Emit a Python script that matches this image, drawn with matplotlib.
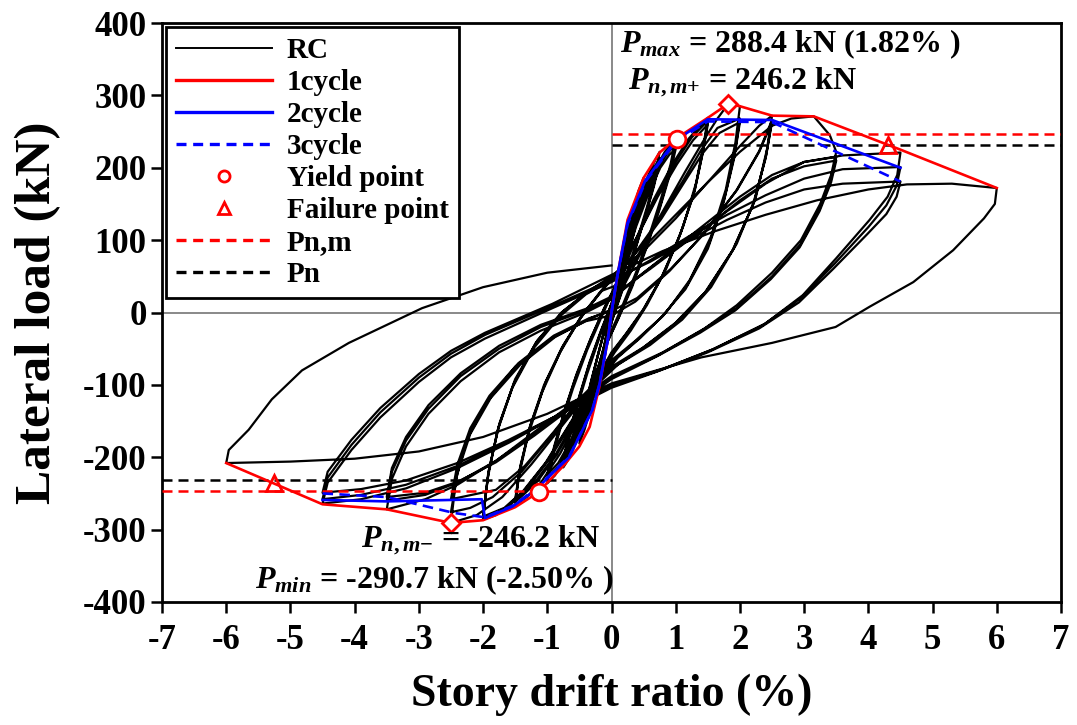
import matplotlib
matplotlib.use("Agg")
import matplotlib.pyplot as plt
from matplotlib.lines import Line2D

plt.rcParams['font.family'] = ['Liberation Serif', 'DejaVu Serif']
plt.rcParams['font.weight'] = 'bold'
plt.rcParams['mathtext.fontset'] = 'custom'
plt.rcParams['mathtext.it'] = 'Liberation Serif:italic:bold'
plt.rcParams['mathtext.rm'] = 'Liberation Serif:bold'
plt.rcParams['mathtext.bf'] = 'Liberation Serif:bold'

# ---------------- RC hysteresis record (drift %, load kN), one list per drift level ----------
rc_025 = [
    [(0.0, 0), (0.03, 10), (0.1, 50), (0.18, 88), (0.25, 118), (0.2, 90), (0.12, 50), (0.04, 10),
     (-0.04, -25), (-0.12, -62), (-0.19, -95), (-0.25, -116), (-0.2, -90), (-0.12, -52), (-0.04, -12)],
    [(0.04, 18), (0.12, 55), (0.19, 88), (0.25, 112), (0.2, 86), (0.12, 46), (0.04, 6),
     (-0.04, -28), (-0.12, -62), (-0.19, -92), (-0.25, -110), (-0.2, -85), (-0.12, -48), (-0.04, -10)],
]
rc_050 = [
    [(0.04, 15), (0.12, 55), (0.22, 100), (0.33, 140), (0.42, 168), (0.5, 186), (0.44, 155), (0.34, 115),
     (0.22, 68), (0.1, 25), (0.0, -10), (-0.1, -45), (-0.22, -95), (-0.33, -135), (-0.42, -162),
     (-0.5, -181), (-0.44, -150), (-0.34, -108), (-0.22, -62), (-0.1, -22), (0.0, 8)],
    [(0.1, 45), (0.22, 92), (0.33, 132), (0.42, 160), (0.5, 178), (0.44, 148), (0.33, 105), (0.2, 58),
     (0.08, 15), (-0.02, -18), (-0.12, -55), (-0.24, -100), (-0.35, -138), (-0.44, -160), (-0.5, -173),
     (-0.44, -143), (-0.33, -100), (-0.2, -55), (-0.08, -15), (0.02, 15)],
    [(0.12, 50), (0.24, 96), (0.35, 133), (0.44, 158), (0.5, 172), (0.43, 140), (0.31, 96), (0.18, 50),
     (0.06, 8), (-0.04, -24), (-0.15, -62), (-0.27, -106), (-0.38, -140), (-0.45, -157), (-0.5, -168),
     (-0.43, -136), (-0.31, -92), (-0.18, -48), (-0.06, -8), (0.04, 22)],
]
rc_075 = [
    [(0.12, 50), (0.25, 105), (0.4, 150), (0.55, 185), (0.66, 207), (0.75, 222), (0.68, 188), (0.55, 145),
     (0.38, 95), (0.2, 45), (0.05, 0), (-0.08, -35), (-0.22, -85), (-0.38, -135), (-0.53, -175),
     (-0.65, -200), (-0.75, -214), (-0.68, -180), (-0.55, -135), (-0.38, -85), (-0.2, -38), (-0.05, 0)],
    [(0.1, 35), (0.25, 95), (0.4, 140), (0.55, 178), (0.66, 200), (0.75, 213), (0.67, 180), (0.53, 135),
     (0.36, 85), (0.18, 35), (0.03, -5), (-0.1, -42), (-0.25, -92), (-0.4, -138), (-0.55, -175),
     (-0.66, -196), (-0.75, -207), (-0.67, -172), (-0.53, -125), (-0.36, -75), (-0.18, -30), (-0.03, 5)],
    [(0.12, 42), (0.27, 98), (0.42, 142), (0.57, 176), (0.67, 196), (0.75, 208), (0.66, 174), (0.51, 128),
     (0.34, 78), (0.16, 28), (0.01, -10), (-0.12, -48), (-0.27, -96), (-0.42, -140), (-0.57, -174),
     (-0.67, -193), (-0.75, -203), (-0.66, -166), (-0.51, -118), (-0.34, -68), (-0.16, -24), (0.0, 12)],
]
rc_100 = [
    [(0.1, 35), (0.28, 100), (0.48, 155), (0.66, 195), (0.83, 222), (1.0, 240), (0.92, 205), (0.78, 160),
     (0.6, 110), (0.38, 55), (0.15, 5), (0.0, -25), (-0.15, -60), (-0.35, -115), (-0.55, -165),
     (-0.75, -205), (-0.88, -225), (-1.0, -236), (-0.92, -200), (-0.78, -155), (-0.6, -105),
     (-0.38, -52), (-0.15, -5), (0.0, 25)],
    [(0.15, 55), (0.35, 115), (0.55, 165), (0.72, 200), (0.87, 220), (1.0, 232), (0.91, 195), (0.76, 148),
     (0.56, 95), (0.34, 42), (0.12, -5), (-0.05, -38), (-0.22, -80), (-0.42, -130), (-0.62, -178),
     (-0.8, -210), (-1.0, -229), (-0.9, -190), (-0.75, -142), (-0.56, -90), (-0.34, -40), (-0.12, 5),
     (0.02, 30)],
    [(0.18, 60), (0.38, 118), (0.58, 165), (0.76, 200), (0.9, 218), (1.0, 226), (0.9, 188), (0.74, 140),
     (0.54, 88), (0.32, 35), (0.1, -10), (-0.07, -42), (-0.25, -85), (-0.45, -135), (-0.65, -180),
     (-0.83, -208), (-1.0, -224), (-0.89, -184), (-0.73, -135), (-0.54, -84), (-0.32, -35), (-0.1, 8)],
]
rc_150 = [
    [(0.1, 40), (0.35, 95), (0.65, 155), (0.95, 205), (1.2, 240), (1.38, 258), (1.5, 269), (1.44, 235),
     (1.32, 180), (1.12, 120), (0.85, 60), (0.55, 10), (0.3, -25), (0.05, -55), (-0.2, -90),
     (-0.5, -145), (-0.8, -195), (-1.1, -235), (-1.32, -255), (-1.5, -266), (-1.44, -225),
     (-1.3, -170), (-1.08, -110), (-0.8, -55), (-0.5, -10), (-0.2, 25)],
    [(0.1, 55), (0.4, 105), (0.7, 160), (1.0, 208), (1.25, 242), (1.5, 265), (1.43, 225), (1.3, 170),
     (1.08, 110), (0.8, 52), (0.5, 5), (0.22, -30), (0.0, -55), (-0.25, -95), (-0.55, -148),
     (-0.85, -196), (-1.15, -233), (-1.35, -250), (-1.5, -262), (-1.43, -218), (-1.28, -160),
     (-1.05, -100), (-0.77, -48), (-0.47, -5), (-0.18, 28)],
    [(0.12, 60), (0.42, 108), (0.72, 160), (1.02, 205), (1.27, 238), (1.5, 260), (1.42, 220), (1.28, 163),
     (1.05, 103), (0.77, 47), (0.47, 0), (0.2, -33), (0.0, -57), (-0.27, -98), (-0.57, -150),
     (-0.87, -196), (-1.17, -232), (-1.37, -248), (-1.5, -258), (-1.42, -212), (-1.26, -155),
     (-1.02, -95), (-0.74, -44), (-0.44, -2), (-0.15, 30)],
]
rc_200 = [
    [(0.15, 40), (0.45, 85), (0.8, 140), (1.15, 195), (1.45, 240), (1.65, 268), (1.82, 288.4), (2.0, 285),
     (1.93, 235), (1.78, 170), (1.55, 105), (1.22, 45), (0.85, 0), (0.45, -35), (0.1, -62),
     (-0.25, -100), (-0.6, -150), (-0.95, -200), (-1.3, -242), (-1.6, -268), (-1.8, -280),
     (-2.0, -286), (-1.93, -230), (-1.78, -165), (-1.55, -105), (-1.2, -48), (-0.8, -5), (-0.4, 25),
     (0.0, 45)],
    [(0.35, 80), (0.75, 130), (1.1, 180), (1.4, 225), (1.65, 255), (2.0, 268), (1.92, 220), (1.76, 158),
     (1.52, 95), (1.18, 38), (0.8, -5), (0.4, -38), (0.05, -65), (-0.3, -105), (-0.65, -155),
     (-1.0, -205), (-1.35, -245), (-1.65, -270), (-2.0, -284), (-1.92, -222), (-1.76, -158),
     (-1.52, -98), (-1.18, -42), (-0.78, 0), (-0.38, 28), (0.0, 48)],
    [(0.38, 82), (0.78, 130), (1.12, 178), (1.42, 220), (1.68, 248), (2.0, 263), (1.91, 213), (1.74, 150),
     (1.5, 88), (1.15, 32), (0.76, -8), (0.36, -40), (0.0, -66), (-0.33, -108), (-0.68, -158),
     (-1.03, -208), (-1.38, -247), (-1.67, -270), (-2.0, -282), (-1.91, -218), (-1.74, -152),
     (-1.5, -92), (-1.15, -38), (-0.75, 2), (-0.35, 30), (0.0, 50)],
]
rc_250 = [
    [(0.5, 85), (1.0, 130), (1.5, 180), (2.0, 230), (2.3, 258), (2.5, 272), (2.42, 225), (2.25, 160),
     (1.95, 95), (1.55, 35), (1.1, -10), (0.6, -45), (0.1, -72), (-0.35, -110), (-0.8, -160),
     (-1.25, -210), (-1.7, -255), (-2.1, -280), (-2.5, -290.7), (-2.42, -230), (-2.25, -175),
     (-1.95, -125), (-1.5, -75), (-0.92, -35), (-0.4, -12), (0.0, -4)],
    [(0.37, 15), (0.9, 57), (1.42, 107), (1.94, 168), (2.3, 223), (2.5, 266), (2.41, 218), (2.22, 152),
     (1.9, 88), (1.48, 30), (1.0, -14), (0.5, -48), (0.0, -75), (-0.45, -115), (-0.9, -165),
     (-1.35, -212), (-1.8, -245), (-2.5, -258), (-2.4, -210), (-2.2, -160), (-1.9, -115),
     (-1.45, -70), (-0.9, -32), (-0.35, -8), (0.0, 2)],
    [(0.4, 20), (0.92, 60), (1.45, 110), (1.96, 170), (2.3, 222), (2.5, 263), (2.4, 213), (2.2, 148),
     (1.88, 85), (1.45, 27), (0.97, -17), (0.47, -50), (0.0, -78), (-0.48, -120), (-0.95, -172),
     (-1.4, -220), (-1.85, -255), (-2.2, -270), (-2.5, -276), (-2.4, -222), (-2.2, -168),
     (-1.88, -118), (-1.42, -72), (-0.88, -34), (-0.33, -8), (0.0, 4)],
]
rc_350 = [
    [(0.5, 90), (1.0, 135), (1.5, 180), (2.0, 222), (2.5, 258), (2.8, 268), (3.15, 271), (3.4, 245),
     (3.5, 222), (3.42, 190), (3.25, 150), (2.95, 100), (2.5, 55), (1.95, 10), (1.45, -22),
     (0.8, -55), (0.0, -88), (-0.6, -125), (-1.2, -165), (-1.8, -205), (-2.4, -238), (-2.9, -258),
     (-3.5, -272), (-3.42, -230), (-3.2, -185), (-2.85, -140), (-2.35, -95), (-1.75, -55),
     (-1.1, -25), (-0.4, 0), (0.0, 18)],
    [(0.5, 55), (1.0, 90), (1.5, 125), (2.0, 160), (2.5, 190), (3.0, 208), (3.5, 215), (3.42, 185),
     (3.25, 145), (2.95, 95), (2.5, 50), (1.95, 6), (1.4, -25), (0.75, -58), (0.0, -90), (-0.6, -128),
     (-1.2, -168), (-1.8, -205), (-2.4, -235), (-2.9, -252), (-3.5, -260), (-3.42, -220),
     (-3.2, -177), (-2.85, -133), (-2.35, -88), (-1.75, -50), (-1.1, -20), (-0.4, 3), (0.0, 20)],
    [(0.5, 55), (1.0, 88), (1.5, 120), (2.0, 155), (2.5, 185), (3.0, 202), (3.5, 210), (3.42, 180),
     (3.24, 140), (2.93, 90), (2.48, 46), (1.93, 3), (1.38, -28), (0.72, -60), (0.0, -92),
     (-0.6, -130), (-1.2, -170), (-1.8, -207), (-2.4, -234), (-2.9, -249), (-3.5, -255),
     (-3.42, -215), (-3.2, -172), (-2.85, -128), (-2.35, -84), (-1.75, -46), (-1.1, -17),
     (-0.4, 5), (0.0, 22)],
]
rc_450 = [
    [(0.6, 60), (1.2, 100), (1.8, 140), (2.4, 178), (3.0, 208), (3.6, 217), (4.5, 221), (4.45, 190),
     (4.3, 160), (4.02, 128), (3.5, 75), (2.98, 24), (2.4, -15), (1.6, -50), (0.8, -78), (0.0, -100),
     (-0.8, -140), (-1.6, -180), (-2.4, -215), (-3.2, -243), (-3.9, -258), (-4.5, -264),
     (-4.42, -235), (-4.05, -190), (-3.6, -145), (-3.0, -96), (-2.5, -62), (-1.97, -36),
     (-0.92, 6), (0.0, 42)],
    [(0.6, 72), (1.2, 105), (1.8, 135), (2.4, 162), (3.0, 185), (3.6, 198), (4.5, 201), (4.44, 175),
     (4.28, 148), (4.0, 118), (3.48, 68), (2.95, 20), (2.35, -18), (1.55, -52), (0.75, -80),
     (0.0, -102), (-0.8, -140), (-1.6, -178), (-2.4, -212), (-3.2, -238), (-3.9, -252),
     (-4.5, -258), (-4.42, -228), (-4.05, -183), (-3.6, -138), (-3.0, -90), (-2.5, -57),
     (-1.97, -31), (-0.92, 9), (0.0, 45)],
    [(0.6, 70), (1.2, 100), (1.8, 128), (2.4, 152), (3.0, 170), (3.6, 178), (4.5, 181), (4.44, 160),
     (4.28, 136), (3.98, 108), (3.45, 60), (2.92, 14), (2.3, -22), (1.5, -55), (0.7, -82),
     (0.0, -104), (-0.8, -140), (-1.6, -176), (-2.4, -208), (-3.2, -232), (-3.9, -244),
     (-4.5, -249), (-4.42, -220), (-4.05, -176), (-3.6, -132), (-3.0, -85), (-2.5, -53),
     (-1.97, -28), (-0.92, 12), (0.0, 52)],
]
rc_600 = [
    [(0.8, 85), (1.6, 112), (2.4, 135), (3.2, 155), (4.0, 170), (4.6, 177), (5.3, 178), (6.0, 172),
     (5.97, 150), (5.8, 130), (5.32, 86), (4.7, 42), (4.02, 8), (3.49, -20), (2.5, -42), (1.4, -62),
     (0.0, -98), (-1.0, -140), (-2.0, -172), (-3.0, -192), (-4.0, -202), (-5.0, -206),
     (-6.0, -208), (-5.96, -190), (-5.65, -162), (-5.29, -120), (-4.82, -80), (-4.09, -42),
     (-2.95, 6), (-2.0, 35), (-1.0, 55), (0.0, 65)],
]

# ---------------- skeleton (envelope) curves per cycle --------------------------------------
cycle1_drift = [-6.0, -4.5, -3.5, -2.5, -2.0, -1.5, -1.13, -1.0, -0.75, -0.5, -0.34, -0.19, -0.06, 0.0,
                0.1, 0.25, 0.5, 0.75, 1.0, 1.5, 1.82, 2.0, 2.5, 3.15, 4.5, 6.0]
cycle1_load = [-208, -265, -272, -290.7, -287, -269, -248, -235, -212, -185, -158, -103, -39, 0,
               55, 128, 186, 221, 240, 269, 288.4, 285, 272, 271, 225, 172]

cycle2_drift = [-4.5, -3.5, -2.02, -1.97, -1.54, -1.18, -0.92, -0.66, -0.3, -0.19, -0.06, 0.0,
                0.09, 0.25, 0.53, 1.0, 1.5, 2.5, 4.5]
cycle2_load = [-259, -261, -258, -284, -268, -245, -222, -200, -135, -100, -39, 0,
               50, 124, 183, 238, 267, 266, 200]

cycle3_drift = [-4.5, -3.5, -2.45, -1.97, -1.54, -1.18, -0.92, -0.66, -0.3, -0.19, -0.06, 0.0,
                0.09, 0.25, 0.53, 1.0, 1.5, 2.5, 4.5]
cycle3_load = [-250, -255, -277, -283, -267, -244, -221, -199, -135, -100, -39, 0,
               50, 122, 181, 236, 264, 263, 181]

yield_drift = [1.02, -1.13]
yield_load = [240, -248]
failure_drift = [4.3, -5.26]
failure_load = [231.8, -236]
peak_drift = [1.82, -2.50]
peak_load = [288.4, -290.7]

pn_m = 246.2   # nominal strength, modified
pn = 232.0     # nominal strength

x_ticks = list(range(-7, 8))
y_ticks = list(range(-400, 401, 100))

# ---------------- figure ---------------------------------------------------------------------
fig = plt.figure(figsize=(10.77, 7.25), dpi=100)
ax = fig.add_axes([162 / 1077, 1 - 602 / 725, (1061 - 162) / 1077, (602 - 23) / 725])

ax.axhline(0, color='#808080', lw=1.3, zorder=1)
ax.axvline(0, color='#808080', lw=1.3, zorder=1)

rc_x, rc_y = [], []
for level in (rc_025, rc_050, rc_075, rc_100, rc_150, rc_200, rc_250, rc_350, rc_450, rc_600):
    for cyc in level:
        for px, py in cyc:
            rc_x.append(px)
            rc_y.append(py)
ax.plot(rc_x, rc_y, color='black', lw=1.6, zorder=2, solid_joinstyle='round')

ax.plot([0, 7], [pn_m, pn_m], color='red', lw=1.8, dashes=(4, 2.4), zorder=3)
ax.plot([-7, 0], [-pn_m, -pn_m], color='red', lw=1.8, dashes=(4, 2.4), zorder=3)
ax.plot([0, 7], [pn, pn], color='black', lw=1.8, dashes=(4, 2.4), zorder=3)
ax.plot([-7, 0], [-pn, -pn], color='black', lw=1.8, dashes=(4, 2.4), zorder=3)

ax.plot(cycle1_drift, cycle1_load, color='red', lw=1.9, zorder=4)
ax.plot(cycle2_drift, cycle2_load, color='#0000ff', lw=1.9, zorder=5)
ax.plot(cycle3_drift, cycle3_load, color='#0000ff', lw=1.9, dashes=(4, 2.4), zorder=5)

ax.plot(yield_drift, yield_load, 'o', ms=12, mfc='white', mec='red', mew=2, zorder=6)
ax.plot(failure_drift, failure_load, '^', ms=11, mfc='none', mec='red', mew=2, zorder=6)
ax.plot(peak_drift, peak_load, 'D', ms=9, mfc='white', mec='red', mew=2, zorder=6)

ax.set_xlim(-7, 7)
ax.set_ylim(-400, 400)
ax.set_xticks(x_ticks)
ax.set_yticks(y_ticks)
ax.set_xticklabels([str(v) for v in x_ticks])
ax.set_yticklabels([str(v) for v in y_ticks])
ax.tick_params(direction='out', length=8, width=1.8, labelsize=25)
ax.tick_params(axis='x', pad=8)
ax.tick_params(axis='y', pad=3)
for sp in ax.spines.values():
    sp.set_linewidth(2.0)

ax.set_xlabel('Story drift ratio (%)', fontsize=33, fontweight='bold', labelpad=12)
ax.set_ylabel('Lateral load (kN)', fontsize=37, fontweight='bold', labelpad=16)

txt = dict(fontsize=23, fontweight='bold', va='center', zorder=7)
ax.text(0.13, 370, r'$P_{max}$ = 288.4 kN (1.82% )', ha='left', **txt)
ax.text(0.25, 318, r'$P_{n,m{+}}$ = 246.2 kN', ha='left', **txt)
ax.text(-0.17, -314, r'$P_{n,m{-}}$ = -246.2 kN', ha='right', **txt)
ax.text(0.03, -370, r'$P_{min}$ = -290.7 kN (-2.50% )', ha='right', **txt)

handles = [
    Line2D([], [], color='black', lw=1.4, label='RC'),
    Line2D([], [], color='red', lw=2.4, label='1cycle'),
    Line2D([], [], color='#0000ff', lw=2.4, label='2cycle'),
    Line2D([], [], color='#0000ff', lw=2.4, dashes=(3, 2), label='3cycle'),
    Line2D([], [], ls='none', marker='o', ms=8, mfc='none', mec='red', mew=2, label='Yield point'),
    Line2D([], [], ls='none', marker='^', ms=8, mfc='none', mec='red', mew=2, label='Failure point'),
    Line2D([], [], color='red', lw=2.4, dashes=(3, 2), label='Pn,m'),
    Line2D([], [], color='black', lw=2.4, dashes=(3, 2), label='Pn'),
]
leg = ax.legend(handles=handles, loc='upper left', bbox_to_anchor=(0.004, 0.993),
                borderaxespad=0, frameon=True, fancybox=False, edgecolor='black',
                framealpha=1, handlelength=3.3, labelspacing=0.17,
                borderpad=0.35, handletextpad=0.5, prop={'weight': 'bold', 'size': 21})
leg.get_frame().set_linewidth(2.0)
leg.set_zorder(8)

fig.savefig('out.png', dpi=100)
